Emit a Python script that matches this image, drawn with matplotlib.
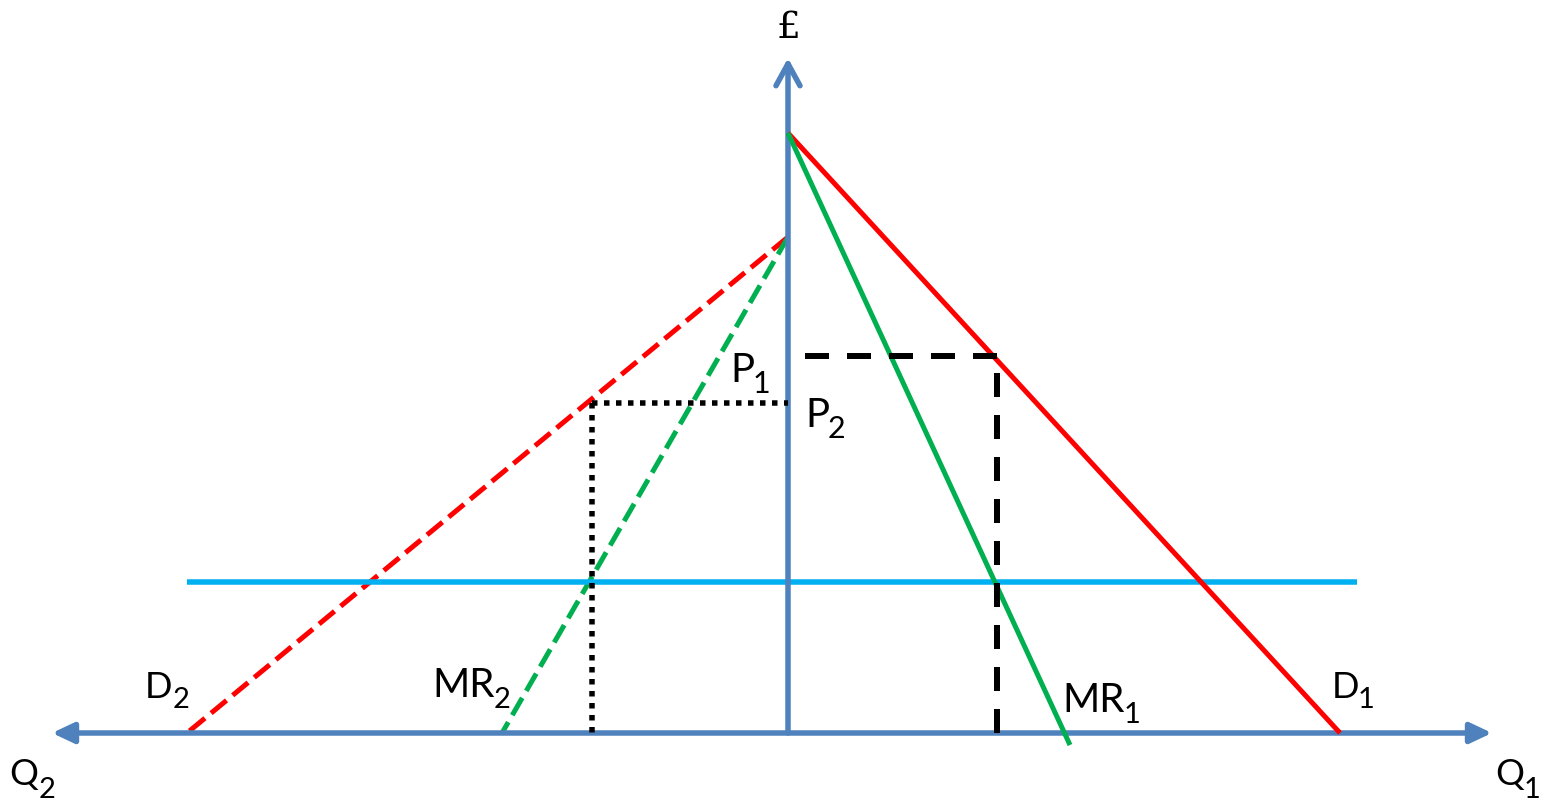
import matplotlib
matplotlib.use("Agg")
import matplotlib.pyplot as plt

plt.rcParams['lines.scale_dashes'] = False

# ---- data (price / quantity units; market 2 quantities plotted to the left) ----
price_axis_top = 675
q1_axis_end = 704
q2_axis_end = 736

d1_price = [600, 0]
d1_qty = [0, 552]
mr1_price = [600, -12]
mr1_qty = [0, 282]

d2_price = [496, 0]
d2_qty = [0, 601]
mr2_price = [496, 0]
mr2_qty = [0, 286]

mc_price = 151
mc_q2_extent = 601
mc_q1_extent = 569

p1 = 377
q1_star = 209
q1_dash_start = 17
p2 = 330
q2_star = 196

# ---- colours ----
AXIS = '#4F81BD'
RED = '#FF0000'
GREEN = '#00B050'
CYAN = '#00B0F0'

PX = 0.72  # points per pixel at dpi 100

fig = plt.figure(figsize=(15.48, 8.01), dpi=100)
ax = fig.add_axes([0, 0, 1, 1])
ax.set_xlim(-788, 760)
ax.set_ylim(-68, 733)
ax.axis('off')

def neg(v):
    return [-x for x in v]

LW = 5.0 * PX

# market 2 (dashed) under the axis
ax.plot(neg(d2_qty), d2_price, color=RED, lw=LW, linestyle=(0, (20 * PX, 8 * PX)),
        dash_capstyle='butt', zorder=2)
ax.plot(neg(mr2_qty), mr2_price, color=GREEN, lw=LW, linestyle=(0, (20 * PX, 8 * PX)),
        dash_capstyle='butt', zorder=2)

# MC line
ax.plot([-mc_q2_extent, mc_q1_extent], [mc_price, mc_price], color=CYAN, lw=5.5 * PX,
        solid_capstyle='butt', zorder=2)

# axes with arrows
ax.annotate('', xy=(-q2_axis_end, 0), xytext=(q1_axis_end, 0),
            arrowprops=dict(arrowstyle='<|-|>,head_length=%f,head_width=%f' % (18 * PX, 8.5 * PX),
                            lw=5.5 * PX, color=AXIS, mutation_scale=1, shrinkA=0, shrinkB=0),
            zorder=3)
ax.annotate('', xy=(0, price_axis_top), xytext=(0, 0),
            arrowprops=dict(arrowstyle='->,head_length=%f,head_width=%f' % (22 * PX, 12 * PX),
                            lw=5.5 * PX, color=AXIS, mutation_scale=1, shrinkA=0, shrinkB=0,
                            capstyle='round', joinstyle='round'),
            zorder=3)

# market 1 (solid) over the axis
ax.plot(d1_qty, d1_price, color=RED, lw=LW, solid_capstyle='butt', zorder=4)
ax.plot(mr1_qty, mr1_price, color=GREEN, lw=LW, solid_capstyle='butt', zorder=5)

# price/quantity guides
ax.plot([q1_dash_start, q1_star], [p1, p1], color='black', lw=6 * PX,
        linestyle=(0, (24 * PX, 18 * PX)), dash_capstyle='butt', zorder=6)
ax.plot([q1_star, q1_star], [p1, 0], color='black', lw=6 * PX,
        linestyle=(25 * PX, (24 * PX, 18 * PX)), dash_capstyle='butt', zorder=6)
ax.plot([-q2_star, 0], [p2, p2], color='black', lw=5.5 * PX,
        linestyle=(0, (5.5 * PX, 6.5 * PX)), dash_capstyle='butt', zorder=6)
ax.plot([-q2_star, -q2_star], [p2, 0], color='black', lw=5.5 * PX,
        linestyle=(0, (5.5 * PX, 6.5 * PX)), dash_capstyle='butt', zorder=6)

# labels
FONT = 'Lato'
def label(x, y, main, sub, size, subx, suby, subsize):
    ax.text(x, y, main, fontsize=size, family=FONT, ha='left', va='baseline', zorder=7)
    ax.text(subx, suby, sub, fontsize=subsize, family=FONT, ha='left', va='baseline', zorder=7)

label(-58, 351, 'P', '1', 29, -35, 340, 22)
label(17, 306, 'P', '2', 29, 40, 295, 22)
label(-643, 35, 'D', '2', 26, -615, 25, 21)
label(-779, -52, 'Q', '2', 26, -749, -65, 21)
label(-356, 36, 'MR', '2', 29, -294, 25, 21)
label(274, 21, 'MR', '1', 29, 336, 10, 21)
label(544, 35, 'D', '1', 26, 570, 25, 21)
label(707, -52, 'Q', '1', 26, 736, -65, 21)
ax.text(-12, 695, '£', fontsize=27, family='DejaVu Serif', ha='left', va='baseline', zorder=7)

fig.savefig('out.png', dpi=100, facecolor='white')
